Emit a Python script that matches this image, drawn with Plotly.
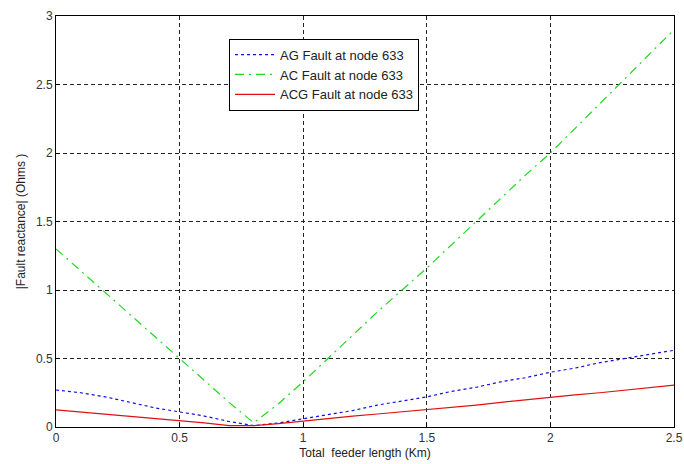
import plotly.graph_objects as go

x_km = [0.0, 0.1, 0.2, 0.3, 0.4, 0.5, 0.6, 0.7, 0.8, 0.9, 1.0, 1.1, 1.2, 1.3,
        1.4, 1.5, 1.6, 1.7, 1.8, 1.9, 2.0, 2.1, 2.2, 2.3, 2.4, 2.5]
ag = [0.27, 0.25, 0.22, 0.18, 0.14, 0.11, 0.08, 0.04, 0.01, 0.03, 0.06, 0.09, 0.12,
      0.16, 0.19, 0.22, 0.26, 0.29, 0.33, 0.36, 0.40, 0.43, 0.47, 0.50, 0.53, 0.56]
ac = [1.30, 1.14, 0.98, 0.82, 0.66, 0.50, 0.34, 0.18, 0.03, 0.17, 0.33, 0.50, 0.67,
      0.84, 1.00, 1.16, 1.33, 1.50, 1.67, 1.84, 2.00, 2.18, 2.36, 2.54, 2.72, 2.90]
acg = [0.125, 0.11, 0.095, 0.08, 0.06, 0.045, 0.03, 0.01, 0.01, 0.025, 0.045, 0.06, 0.08,
       0.095, 0.11, 0.125, 0.145, 0.16, 0.18, 0.20, 0.215, 0.235, 0.25, 0.27, 0.285, 0.305]

names = ["AG Fault at node 633", "AC Fault at node 633", "ACG Fault at node 633"]
x_ticks = [0, 0.5, 1, 1.5, 2, 2.5]
x_labels = ["0", "0.5", "1", "1.5", "2", "2.5"]
y_ticks = [0, 0.5, 1, 1.5, 2, 2.5, 3]
y_labels = ["0", "0.5", "1", "1.5", "2", "2.5", "3"]

font_family = "Liberation Sans, Arial"

fig = go.Figure()
fig.add_trace(go.Scatter(x=x_km, y=ag, mode="lines", name=names[0],
                         line=dict(color="#1010e0", width=1.2, dash="3px,3px")))
fig.add_trace(go.Scatter(x=x_km, y=ac, mode="lines", name=names[1],
                         line=dict(color="#20d820", width=1.2, dash="9px,5px,2px,5px")))
fig.add_trace(go.Scatter(x=x_km, y=acg, mode="lines", name=names[2],
                         line=dict(color="#e01010", width=1.2)))

axis_common = dict(showline=True, linecolor="black", linewidth=1, mirror=True,
                   ticks="inside", ticklen=4, tickcolor="black",
                   showgrid=True, gridcolor="#222222", griddash="4px,3px", gridwidth=1,
                   zeroline=False, automargin=False,
                   tickfont=dict(family=font_family, size=12, color="#333333"),
                   title_font=dict(family=font_family, size=12, color="#222222"))

fig.update_layout(
    width=684, height=464,
    margin=dict(l=56, r=10, t=16, b=37),
    paper_bgcolor="white", plot_bgcolor="white",
    showlegend=True,
    legend=dict(x=0.28, y=0.945, xanchor="left", yanchor="top",
                bgcolor="white", bordercolor="black", borderwidth=1,
                font=dict(family=font_family, size=13, color="#222222"),
                tracegroupgap=0, itemwidth=40),
    xaxis=dict(range=[0, 2.5], tickvals=x_ticks, ticktext=x_labels,
               title=dict(text="Total  feeder length (Km)", standoff=4), **axis_common),
    yaxis=dict(range=[0, 3], tickvals=y_ticks, ticktext=y_labels,
               title=dict(text="|Fault reactance| (Ohms )", standoff=7), **axis_common),
)

fig.write_html("out.html")
